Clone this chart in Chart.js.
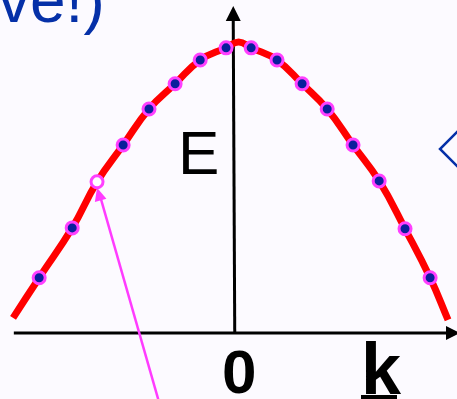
<!DOCTYPE html>
<html>
<head>
<meta charset="utf-8">
<script src="https://cdn.jsdelivr.net/npm/chart.js@4.4.0/dist/chart.umd.min.js"></script>
<style>
    html, body { margin: 0; padding: 0; background: #fcfaff; }
    .wrap { position: relative; width: 457px; height: 399px; overflow: hidden; font-family: "Liberation Sans", Arial, sans-serif; }
    .wrap canvas { position: absolute; left: 0; top: 0; }
    .lbl { position: absolute; line-height: 1; white-space: nowrap; }
</style>
</head>
<body>
<div class="wrap">
    <canvas id="band-chart" width="457" height="399"></canvas>
    <span class="lbl" style="left:-2px; top:-32px; font-size:64px; color:#0530a8;">ve!)</span>
    <span class="lbl" style="left:178px; top:122px; font-size:62px; color:#000;">E</span>
    <span class="lbl" style="left:222px; top:341px; font-size:62px; font-weight:bold; color:#000;">0</span>
    <span class="lbl" style="left:361px; top:333px; font-size:72px; font-weight:bold; color:#000;">k</span>
    <div style="position:absolute; left:361px; top:395px; width:36px; height:6px; background:#000;"></div>
</div>
<script>
// band curve E(k)
const curveK = [-8.81, -7.79, -6.50, -5.53, -4.51, -3.50, -2.48, -1.50, -0.49, 0, 0.49, 1.50, 2.48, 3.46, 4.47, 5.49, 6.50, 7.48, 8.18];
const curveE = [0.52, 1.90, 3.62, 5.21, 6.48, 7.72, 8.59, 9.41, 9.83, 10.03, 9.83, 9.41, 8.59, 7.72, 6.48, 5.24, 3.59, 1.90, 0.45];

// occupied states (filled dots)
const filledK = [-7.79, -6.50, -4.51, -3.50, -2.48, -1.50, -0.49, 0.49, 1.50, 2.48, 3.46, 4.47, 5.49, 6.50, 7.48];
const filledE = [1.90, 3.62, 6.48, 7.72, 8.59, 9.41, 9.83, 9.83, 9.41, 8.59, 7.72, 6.48, 5.24, 3.59, 1.90];

// the empty state (hole)
const emptyK = [-5.53];
const emptyE = [5.21];

const toPoints = (ks, es) => ks.map((k, i) => ({ x: k, y: es[i] }));

// axes with arrowheads, pointer arrow and the blue corner shape
const sketchPlugin = {
    id: 'sketch',
    beforeDatasetsDraw(chart) {
        const { ctx, scales: { x, y } } = chart;
        const y0 = y.getPixelForValue(0);
        const x0 = x.getPixelForValue(-0.21);
        ctx.save();
        ctx.strokeStyle = '#000';
        ctx.fillStyle = '#000';
        ctx.lineWidth = 3;
        // horizontal axis
        ctx.beginPath();
        ctx.moveTo(x.getPixelForValue(-8.78), y0);
        ctx.lineTo(448, y0);
        ctx.stroke();
        ctx.beginPath();
        ctx.moveTo(446, y0 - 7);
        ctx.lineTo(460, y0);
        ctx.lineTo(446, y0 + 7);
        ctx.closePath();
        ctx.fill();
        // vertical axis
        ctx.beginPath();
        ctx.moveTo(x0 + 1.5, y0);
        ctx.lineTo(x0, 20);
        ctx.stroke();
        ctx.beginPath();
        ctx.moveTo(x0 - 7.5, 21);
        ctx.lineTo(x0, 6);
        ctx.lineTo(x0 + 7.5, 21);
        ctx.closePath();
        ctx.fill();
        // blue diamond edge at right
        ctx.strokeStyle = '#0530a8';
        ctx.lineWidth = 2.5;
        ctx.beginPath();
        ctx.moveTo(458, 131);
        ctx.lineTo(440, 149);
        ctx.lineTo(458, 167);
        ctx.stroke();
        ctx.restore();
    },
    afterDatasetsDraw(chart) {
        const { ctx, scales: { x, y } } = chart;
        const tx = x.getPixelForValue(emptyK[0]);
        const ty = y.getPixelForValue(emptyE[0]) + 6;
        ctx.save();
        ctx.strokeStyle = '#ff3cff';
        ctx.fillStyle = '#ff3cff';
        ctx.lineWidth = 2.5;
        ctx.beginPath();
        ctx.moveTo(159, 402);
        ctx.lineTo(tx + 3, ty + 8);
        ctx.stroke();
        const ang = Math.atan2(ty - 402, tx - 159);
        ctx.translate(tx, ty);
        ctx.rotate(ang);
        ctx.beginPath();
        ctx.moveTo(0, 0);
        ctx.lineTo(-13, -6);
        ctx.lineTo(-13, 6);
        ctx.closePath();
        ctx.fill();
        ctx.restore();
    }
};

new Chart(document.getElementById('band-chart'), {
    type: 'scatter',
    data: {
        datasets: [
            {
                label: 'hole',
                data: toPoints(emptyK, emptyE),
                pointRadius: 6,
                pointBorderWidth: 3,
                pointBackgroundColor: '#ffffff',
                pointBorderColor: '#ff40ff',
                order: 0
            },
            {
                label: 'electrons',
                data: toPoints(filledK, filledE),
                pointRadius: 6,
                pointBorderWidth: 3,
                pointBackgroundColor: '#0a1f9c',
                pointBorderColor: '#ff40ff',
                order: 1
            },
            {
                label: 'band',
                data: toPoints(curveK, curveE),
                showLine: true,
                borderColor: '#ff0000',
                borderWidth: 7,
                borderCapStyle: 'butt',
                tension: 0.45,
                pointRadius: 0,
                fill: false,
                order: 2
            }
        ]
    },
    options: {
        responsive: false,
        animation: false,
        events: [],
        layout: { padding: 0, autoPadding: false },
        plugins: {
            legend: { display: false },
            tooltip: { enabled: false }
        },
        scales: {
            x: { type: 'linear', display: false, min: -9.32, max: 8.53 },
            y: { type: 'linear', display: false, min: -2.28, max: 11.48 }
        },
        clip: false
    },
    plugins: [sketchPlugin]
});
</script>
</body>
</html>
